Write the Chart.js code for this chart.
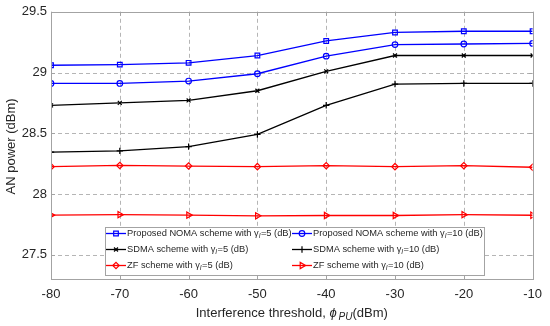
<!DOCTYPE html>
<html>
<head>
<meta charset="utf-8">
<script src="https://cdn.jsdelivr.net/npm/chart.js@4.4.1/dist/chart.umd.min.js"></script>
<style>
  html, body { margin: 0; padding: 0; background: #ffffff; }
  canvas { display: block; }
</style>
</head>
<body>
<canvas id="c" width="550" height="326"></canvas>
<script>
// ---- data ----
const thresholds = [-80, -70, -60, -50, -40, -30, -20, -10];
const noma5  = [29.06, 29.065, 29.08, 29.14, 29.26, 29.33, 29.34, 29.34];
const noma10 = [28.91, 28.91, 28.93, 28.99, 29.135, 29.23, 29.235, 29.24];
const sdma5  = [28.73, 28.75, 28.77, 28.85, 29.01, 29.14, 29.14, 29.14];
const sdma10 = [28.345, 28.355, 28.39, 28.49, 28.73, 28.905, 28.91, 28.91];
const zf5    = [28.225, 28.235, 28.23, 28.225, 28.233, 28.225, 28.233, 28.22];
const zf10   = [27.826, 27.83, 27.826, 27.82, 27.823, 27.823, 27.83, 27.825];
const seriesNames = [
  "Proposed NOMA scheme with γ_I=5 (dB)",
  "Proposed NOMA scheme with γ_I=10 (dB)",
  "SDMA scheme with γ_I=5 (dB)",
  "SDMA scheme with γ_I=10 (dB)",
  "ZF scheme with γ_I=5 (dB)",
  "ZF scheme with γ_I=10 (dB)"
];
const yTicks = [27.5, 28, 28.5, 29, 29.5];
const xTitle = ["Interference threshold, ", "ϕ", "PU", "(dBm)"];
const yTitle = "AN power (dBm)";

const FONT = "'Liberation Sans', Arial, sans-serif";
const BOX = '#a3a3a3';
const GRID = '#b5b5b5';
const TXT = '#262626';

function mk(label, data, color, style, radius, rotation) {
  return {
    label, data: data.map((v, i) => ({x: thresholds[i], y: v})),
    borderColor: color, backgroundColor: 'rgba(0,0,0,0)',
    borderWidth: 1.3, pointStyle: style, pointRadius: radius,
    pointHoverRadius: radius, pointRotation: rotation || 0,
    pointBorderColor: color, pointBackgroundColor: 'rgba(0,0,0,0)',
    pointBorderWidth: 1.2, tension: 0, fill: false
  };
}

const datasets = [
  mk(seriesNames[0], noma5,  '#0000ff', 'rect', 3.3),
  mk(seriesNames[1], noma10, '#0000ff', 'circle', 2.8),
  mk(seriesNames[2], sdma5,  '#000000', 'crossRot', 2.8),
  mk(seriesNames[3], sdma10, '#000000', 'cross', 3.2),
  mk(seriesNames[4], zf5,    '#ff0000', 'rectRot', 3.2),
  mk(seriesNames[5], zf10,   '#ff0000', 'triangle', 3.6, 90)
];

function drawRich(ctx, str, x, y, size) {
  // draws text where "_X" denotes an italic subscript character
  const parts = str.split('_');
  ctx.textAlign = 'left';
  ctx.textBaseline = 'middle';
  let cx = x;
  parts.forEach((p, i) => {
    let rest = p;
    if (i > 0) {
      const sub = p.charAt(0);
      rest = p.slice(1);
      ctx.font = 'italic ' + (size * 0.72) + 'px ' + FONT;
      ctx.fillText(sub, cx, y + size * 0.3);
      cx += ctx.measureText(sub).width + 0.3;
    }
    ctx.font = size + 'px ' + FONT;
    ctx.fillText(rest, cx, y);
    cx += ctx.measureText(rest).width;
  });
}

function marker(ctx, ds, x, y) {
  ctx.save();
  ctx.strokeStyle = ds.borderColor;
  ctx.fillStyle = 'rgba(0,0,0,0)';
  ctx.lineWidth = ds.pointBorderWidth;
  if (Chart.helpers && Chart.helpers.drawPoint) {
    Chart.helpers.drawPoint(ctx, {pointStyle: ds.pointStyle, rotation: ds.pointRotation,
      radius: ds.pointRadius, borderWidth: ds.pointBorderWidth}, x, y);
  }
  ctx.restore();
}

const gridPlugin = {
  id: 'gridPlugin',
  beforeDatasetsDraw(chart) {
    const ctx = chart.ctx;
    const a = chart.chartArea;
    const xs = chart.scales.x, ys = chart.scales.y;
    ctx.save();
    ctx.strokeStyle = GRID;
    ctx.lineWidth = 1;
    ctx.setLineDash([4, 3]);
    ctx.beginPath();
    thresholds.forEach(t => {
      const px = Math.round(xs.getPixelForValue(t)) + 0.5;
      ctx.moveTo(px, a.top); ctx.lineTo(px, a.bottom);
    });
    yTicks.forEach(t => {
      const py = Math.round(ys.getPixelForValue(t)) + 0.5;
      ctx.moveTo(a.left, py); ctx.lineTo(a.right, py);
    });
    ctx.stroke();
    ctx.restore();
  }
};

const decor = {
  id: 'decor',
  afterDraw(chart) {
    const ctx = chart.ctx;
    const a = chart.chartArea;
    const xs = chart.scales.x, ys = chart.scales.y;
    ctx.save();
    // box
    ctx.strokeStyle = BOX;
    ctx.lineWidth = 1;
    ctx.setLineDash([]);
    ctx.strokeRect(Math.round(a.left) + 0.5, Math.round(a.top) + 0.5,
      Math.round(a.right - a.left), Math.round(a.bottom - a.top));
    // inner ticks
    ctx.beginPath();
    thresholds.forEach(t => {
      const px = Math.round(xs.getPixelForValue(t)) + 0.5;
      ctx.moveTo(px, a.bottom); ctx.lineTo(px, a.bottom - 4);
      ctx.moveTo(px, a.top); ctx.lineTo(px, a.top + 4);
    });
    yTicks.forEach(t => {
      const py = Math.round(ys.getPixelForValue(t)) + 0.5;
      ctx.moveTo(a.left, py); ctx.lineTo(a.left + 4, py);
      ctx.moveTo(a.right, py); ctx.lineTo(a.right - 4, py);
    });
    ctx.stroke();

    // axis titles
    ctx.fillStyle = TXT;
    ctx.font = '13px ' + FONT;
    const w0 = ctx.measureText(xTitle[0]).width;
    ctx.font = 'italic 13px ' + FONT;
    const w1 = ctx.measureText(xTitle[1]).width;
    ctx.font = 'italic 10px ' + FONT;
    const w2 = ctx.measureText(xTitle[2]).width;
    ctx.font = '13px ' + FONT;
    const w3 = ctx.measureText(xTitle[3]).width;
    const total = w0 + w1 + 2 + w2 + w3;
    let cx = (a.left + a.right) / 2 - total / 2;
    const ty = 313;
    ctx.textBaseline = 'middle';
    ctx.textAlign = 'left';
    ctx.font = '13px ' + FONT;
    ctx.fillText(xTitle[0], cx, ty); cx += w0;
    ctx.font = 'italic 13px ' + FONT;
    ctx.fillText(xTitle[1], cx, ty); cx += w1 + 2;
    ctx.font = 'italic 10px ' + FONT;
    ctx.fillText(xTitle[2], cx, ty + 4); cx += w2;
    ctx.font = '13px ' + FONT;
    ctx.fillText(xTitle[3], cx, ty);

    ctx.save();
    ctx.translate(11, (a.top + a.bottom) / 2 + 1);
    ctx.rotate(-Math.PI / 2);
    ctx.textAlign = 'center';
    ctx.font = '13px ' + FONT;
    ctx.fillText(yTitle, 0, 0);
    ctx.restore();

    // legend inside the plot
    const lx = a.left + 54, ly = a.bottom - 52, lw = 379, lh = 48;
    ctx.fillStyle = '#ffffff';
    ctx.fillRect(lx, ly, lw, lh);
    ctx.strokeStyle = BOX;
    ctx.lineWidth = 1;
    ctx.strokeRect(Math.round(lx) + 0.5, Math.round(ly) + 0.5, lw, lh);
    const colX = [lx + 1, lx + 187];
    chart.data.datasets.forEach((ds, i) => {
      const col = i % 2, row = Math.floor(i / 2);
      const x0 = colX[col], y0 = ly + 6.5 + row * 16;
      ctx.strokeStyle = ds.borderColor;
      ctx.lineWidth = ds.borderWidth;
      ctx.beginPath();
      ctx.moveTo(x0, y0); ctx.lineTo(x0 + 20, y0);
      ctx.stroke();
      marker(ctx, ds, x0 + 10, y0);
      ctx.fillStyle = TXT;
      drawRich(ctx, ds.label, x0 + 21, y0, 9.3);
    });
    ctx.restore();
  }
};

new Chart(document.getElementById('c'), {
  type: 'line',
  data: { datasets },
  options: {
    responsive: false,
    animation: false,
    events: [],
    layout: { padding: { left: 0, right: 11, top: 7, bottom: 0 } },
    plugins: { legend: { display: false }, tooltip: { enabled: false } },
    scales: {
      x: {
        type: 'linear', min: -80, max: -10,
        afterFit(s) { s.height = 47; },
        afterBuildTicks(s) { s.ticks = thresholds.map(v => ({value: v})); },
        grid: { display: false, drawTicks: false },
        border: { display: false },
        ticks: { color: TXT, font: { family: FONT, size: 13 }, padding: 8, maxRotation: 0,
          callback: v => String(v) }
      },
      y: {
        type: 'linear', min: 27.3, max: 29.5,
        afterFit(s) { s.width = 51; },
        afterBuildTicks(s) { s.ticks = yTicks.map(v => ({value: v})); },
        grid: { display: false, drawTicks: false },
        border: { display: false },
        ticks: { color: TXT, font: { family: FONT, size: 13 }, padding: 4,
          callback: v => String(v) }
      }
    }
  },
  plugins: [gridPlugin, decor]
});
</script>
</body>
</html>
